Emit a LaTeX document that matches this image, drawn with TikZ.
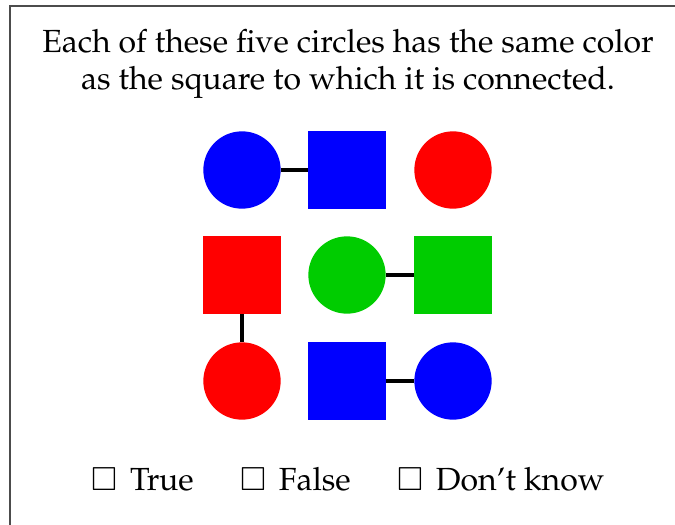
\documentclass[tikz,border=0pt]{standalone}
\usepackage{amsmath,amssymb}
\usepackage[T1]{fontenc}
\usepackage{mathpazo}
\usepackage{tikz}
\usetikzlibrary{positioning}

\definecolor{pureblue}{RGB}{0,0,255}
\definecolor{purered}{RGB}{255,0,0}
\definecolor{puregreen}{RGB}{0,204,0}

\tikzset{
  dot/.style={circle, minimum size=58pt, inner sep=0pt, fill=#1},
  tile/.style={rectangle, minimum size=58pt, inner sep=0pt, fill=#1},
  link/.style={line width=2.6pt, black},
  txt/.style={font=\fontsize{24}{28}\selectfont, align=center}
}
\newcommand{\tickbox}{$\square$\hspace{3.5pt} }

\begin{document}
\begin{tikzpicture}[x=0.75pt,y=-0.75pt]

% --- Page and frame ---
\useasboundingbox (0,0) rectangle (675,525);
\draw[line width=1.2pt, black!70] (10,6) rectangle (700,560);

% --- Statement ---
\node[txt] (head) at (348,64)
  {Each of these five circles has the same color\\as the square to which it is connected.};

% --- Grid of shapes ---
\node[dot=pureblue]   (c1) at (242,170) {};
\node[tile=pureblue]  (s1) at (347,170) {};
\node[dot=purered]    (c2) at (453,170) {};

\node[tile=purered]   (s2) at (242,275) {};
\node[dot=puregreen]  (c3) at (347,275) {};
\node[tile=puregreen] (s3) at (453,275) {};

\node[dot=purered]    (c4) at (242,381) {};
\node[tile=pureblue]  (s4) at (347,381) {};
\node[dot=pureblue]   (c5) at (453,381) {};

% --- Connections ---
\draw[link] (c1) -- (s1);
\draw[link] (c3) -- (s3);
\draw[link] (s2) -- (c4);
\draw[link] (s4) -- (c5);

% --- Answers ---
\node[txt] (ans) at (348,479)
  {\tickbox True\hspace{1.45em}\tickbox False\hspace{1.45em}\tickbox Don't know};

\end{tikzpicture}
\end{document}
